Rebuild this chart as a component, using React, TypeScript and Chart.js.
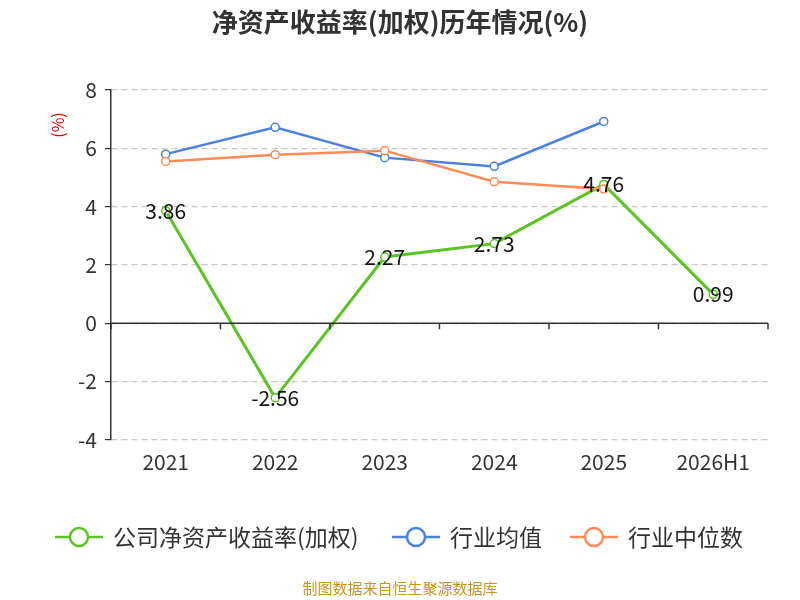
import React, { useEffect, useRef } from "react";
import { Chart, registerables } from "chart.js";
Chart.register(...registerables);

const categories = ["2021", "2022", "2023", "2024", "2025", "2026H1"];
const companyRoe = [3.86, -2.56, 2.27, 2.73, 4.76, 0.99];
const industryAvg = [5.8, 6.72, 5.68, 5.38, 6.92, null];
const industryMedian = [5.55, 5.78, 5.92, 4.85, 4.6, null];
const seriesNames = ["公司净资产收益率(加权)", "行业均值", "行业中位数"];
const colors = ["#5bc424", "#4a80e0", "#ff8c55"];
const FONT = "'Noto Sans CJK SC', 'Noto Sans', sans-serif";

const extras = {
  id: "extras",
  afterDraw(chart: any) {
    const ctx = chart.ctx;
    const x = chart.scales.x;
    const y = chart.scales.y;
    ctx.save();
    const y0 = y.getPixelForValue(0);
    ctx.strokeStyle = "#333";
    ctx.lineWidth = 1.5;
    ctx.beginPath();
    ctx.moveTo(chart.chartArea.left, y0);
    ctx.lineTo(chart.chartArea.right, y0);
    const w = (chart.chartArea.right - chart.chartArea.left) / categories.length;
    for (let i = 0; i <= categories.length; i++) {
      const px = chart.chartArea.left + i * w;
      ctx.moveTo(px, y0);
      ctx.lineTo(px, y0 + 6);
    }
    ctx.stroke();
    ctx.fillStyle = "#111";
    ctx.font = `21px ${FONT}`;
    ctx.textAlign = "center";
    ctx.textBaseline = "middle";
    companyRoe.forEach((v, i) => {
      ctx.fillText(v.toFixed(2), x.getPixelForValue(i), y.getPixelForValue(v));
    });
    // y title
    ctx.save();
    ctx.translate(58, 125);
    ctx.rotate(-Math.PI / 2);
    ctx.fillStyle = "#e00000";
    ctx.font = `16px ${FONT}`;
    ctx.fillText("(%)", 0, 0);
    ctx.restore();
    ctx.fillStyle = "#333";
    ctx.font = `bold 26px ${FONT}`;
    ctx.fillText("净资产收益率(加权)历年情况(%)", 400, 22);
    ctx.font = `23px ${FONT}`;
    ctx.textAlign = "left";
    const items = [
      { x: 55, t: seriesNames[0] },
      { x: 392, t: seriesNames[1] },
      { x: 570, t: seriesNames[2] },
    ];
    items.forEach((it, i) => {
      const ly = 537;
      ctx.strokeStyle = colors[i];
      ctx.lineWidth = 2.5;
      ctx.beginPath();
      ctx.moveTo(it.x, ly);
      ctx.lineTo(it.x + 48, ly);
      ctx.stroke();
      ctx.beginPath();
      ctx.arc(it.x + 24, ly, 9, 0, Math.PI * 2);
      ctx.fillStyle = "#fff";
      ctx.fill();
      ctx.stroke();
      ctx.fillStyle = "#333";
      ctx.fillText(it.t, it.x + 58, ly);
    });
    ctx.textAlign = "center";
    ctx.fillStyle = "#c8961e";
    ctx.font = `15px ${FONT}`;
    ctx.fillText("制图数据来自恒生聚源数据库", 400, 588);
    ctx.restore();
  },
};

export default function App() {
  const ref = useRef<HTMLCanvasElement>(null);
  useEffect(() => {
    const mk = (label: string, data: any[], c: string, bw: number) => ({
      label,
      data,
      borderColor: c,
      backgroundColor: "#fff",
      borderWidth: bw,
      pointRadius: 4,
      pointBorderWidth: 1.5,
      pointBackgroundColor: "#fff",
      pointBorderColor: c,
      tension: 0,
    });
    const chart = new Chart(ref.current!, {
      type: "line",
      data: {
        labels: categories,
        datasets: [
          mk(seriesNames[2], industryMedian, colors[2], 2.5),
          mk(seriesNames[1], industryAvg, colors[1], 2.5),
          mk(seriesNames[0], companyRoe, colors[0], 3),
        ],
      },
      options: {
        animation: false,
        responsive: false,
        layout: { padding: { top: 90, right: 32, bottom: 115, left: 70 } },
        plugins: { legend: { display: false }, tooltip: { enabled: false } },
        scales: {
          x: {
            offset: true,
            grid: { display: false, drawTicks: false },
            border: { display: false },
            ticks: { color: "#333", font: { size: 21, family: FONT }, padding: 10 },
          },
          y: {
            min: -4,
            max: 8,
            ticks: { stepSize: 2, color: "#333", font: { size: 21, family: FONT }, padding: 8 },
            grid: { color: "#c8c8c8", lineWidth: 1.2, drawTicks: true, tickLength: 6, tickColor: "#333" } as any,
            border: { display: true, color: "#333", width: 1.5, dash: [6, 4] } as any,
          },
        },
      },
      plugins: [extras],
    });
    return () => chart.destroy();
  }, []);
  return (
    <div style={{ position: "fixed", left: 0, top: 0, width: 800, height: 600, background: "#fff" }}>
      <canvas ref={ref} width={800} height={600} />
    </div>
  );
}
